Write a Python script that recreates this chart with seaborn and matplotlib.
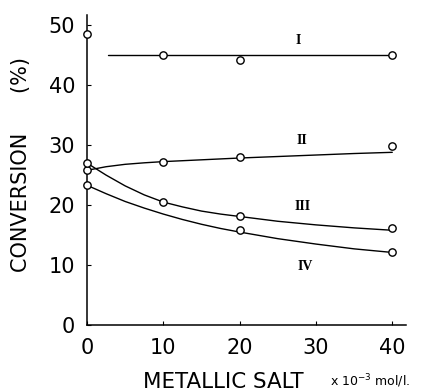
import numpy as np
import pandas as pd
import seaborn as sns
import matplotlib
matplotlib.use("Agg")
import matplotlib.pyplot as plt

sns.set_theme(style="ticks")
plt.rcParams["font.family"] = ["DejaVu Sans"]
plt.rcParams["text.color"] = "black"
plt.rcParams["axes.labelcolor"] = "black"

# Measured conversions (%) vs metallic salt concentration (x10^-3 mol/l)
conc_pts = [0, 10, 20, 40]
series_I_pts = [48.5, 45.1, 44.2, 45.1]
series_II_pts = [25.8, 27.2, 28.0, 29.9]
series_III_pts = [27.0, 20.5, 18.2, 16.2]
conc_pts_IV = [0, 20, 40]
series_IV_pts = [23.3, 15.8, 12.1]

# Smoothed trend curves
curve_I_x = [2.75, 40]
curve_I_y = [45.1, 45.1]
curve_x = [0, 2.5, 5, 7.5, 10, 12.5, 15, 17.5, 20, 25, 30, 35, 40]
curve_II_y = [25.8, 26.4, 26.8, 27.05, 27.25, 27.4, 27.55, 27.7, 27.85, 28.1, 28.35, 28.6, 28.8]
curve_III_y = [27.0, 25.0, 23.2, 21.7, 20.5, 19.7, 19.0, 18.5, 18.1, 17.3, 16.7, 16.2, 15.8]
curve_IV_y = [23.3, 21.9, 20.6, 19.5, 18.5, 17.6, 16.8, 16.1, 15.5, 14.4, 13.5, 12.7, 12.1]

curve_names = ["I", "II", "III", "IV"]
label_x = [27.7, 28.2, 28.3, 28.6]
label_y = [47.5, 30.8, 19.7, 9.7]

x_ticks = [0, 10, 20, 30, 40]
y_ticks = [0, 10, 20, 30, 40, 50]

fig = plt.figure(figsize=(4.21, 3.92), dpi=100)
ax = fig.add_axes([0.2067, 0.1709, 0.7577, 0.7908])

line_kw = dict(color="black", linewidth=1.0, legend=False, ax=ax)
sns.lineplot(x=curve_I_x, y=curve_I_y, **line_kw)
for cy in (curve_II_y, curve_III_y, curve_IV_y):
    sns.lineplot(x=curve_x, y=cy, **line_kw)

pt_kw = dict(marker="o", s=28, facecolor="white", edgecolor="black",
             linewidth=1.0, zorder=5, clip_on=False, legend=False, ax=ax)
for xs, ys in ((conc_pts, series_I_pts), (conc_pts, series_II_pts),
               (conc_pts, series_III_pts), (conc_pts_IV, series_IV_pts)):
    sns.scatterplot(x=xs, y=ys, **pt_kw)

for name, lx, ly in zip(curve_names, label_x, label_y):
    ax.text(lx, ly, name, fontsize=10, fontweight="semibold",
            family=["Liberation Serif", "DejaVu Serif"], ha="center", va="center")

ax.set_xlim(0, 41.8)
ax.set_ylim(0, 51.7)
ax.set_xticks(x_ticks)
ax.set_yticks(y_ticks)
ax.tick_params(direction="in", length=3, width=0.8, labelsize=15, pad=8.6,
               colors="black", labelcolor="black")
ax.tick_params(axis="x", pad=9)
sns.despine(ax=ax)
for s in ("left", "bottom"):
    ax.spines[s].set_linewidth(1.1)
    ax.spines[s].set_color("black")

fig.text(0.0487, 0.5816, "CONVERSION      (%)", fontsize=15, rotation=90,
         ha="center", va="center")
fig.text(0.5306, 1 - 388 / 392, "METALLIC SALT", fontsize=15.4, ha="center",
         va="baseline")
fig.text(330 / 421, 1 - 386 / 392, r"x 10$^{-3}$ mol/l.", fontsize=9, ha="left",
         va="baseline")

fig.savefig("out.png", dpi=100, facecolor="white")
